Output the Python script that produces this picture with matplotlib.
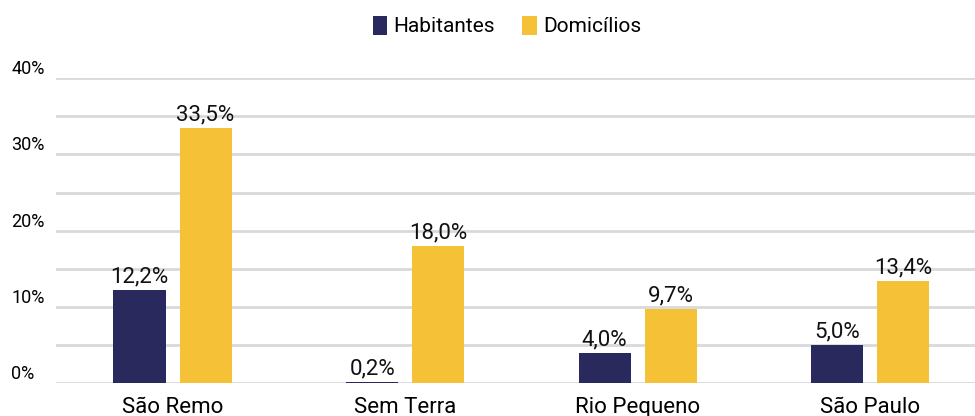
import numpy as np
import matplotlib.pyplot as plt

categories = ["São Remo", "Sem Terra", "Rio Pequeno", "São Paulo"]
habitantes = [12.2, 0.2, 4.0, 5.0]
domicilios = [33.5, 18.0, 9.7, 13.4]
series_names = ["Habitantes", "Domicílios"]
yticks = [0, 10, 20, 30, 40]

navy = "#29295e"
yellow = "#f5c136"

fig = plt.figure(figsize=(9.75, 4.16), dpi=100)
ax = fig.add_axes([0.057, 0.079, 0.943, 0.733])

x = np.arange(len(categories))
w = 0.224
off = 0.142
b1 = ax.bar(x - off, habitantes, w, color=navy, label=series_names[0], zorder=3)
b2 = ax.bar(x + off, domicilios, w, color=yellow, label=series_names[1], zorder=3)

for bars, vals in [(b1, habitantes), (b2, domicilios)]:
    for r, v in zip(bars, vals):
        ax.text(r.get_x() + r.get_width() / 2, v + 0.3, f"{v:.1f}%".replace(".", ","),
                ha="center", va="bottom", fontsize=16, family="Roboto",
                color="#111111")

ax.set_ylim(0, 40)
ax.set_xlim(-0.503, 3.45)
ax.set_yticks(np.arange(0, 41, 5))
ax.set_yticklabels([f"{int(t)}%" if t in yticks else "" for t in np.arange(0, 41, 5)])
ax.yaxis.grid(True, color="#d9d9d9", linewidth=2, zorder=0)
ax.tick_params(axis="y", length=0, pad=32, labelsize=13)
for lab in ax.get_yticklabels():
    lab.set_family("Roboto")
    lab.set_horizontalalignment("left")
    lab.set_verticalalignment("bottom")

ax.set_xticks(x)
ax.set_xticklabels(categories, fontsize=16, family="Roboto")
ax.tick_params(axis="x", length=0, pad=10)
for s in ax.spines.values():
    s.set_visible(False)

leg = fig.legend(loc="center", bbox_to_anchor=(0.52, 0.937), ncol=2, frameon=False,
                 handlelength=0.7, handleheight=1.0, handletextpad=0.3, columnspacing=1.3,
                 prop={"family": "Roboto", "size": 15})

fig.savefig("out.png", dpi=100)
